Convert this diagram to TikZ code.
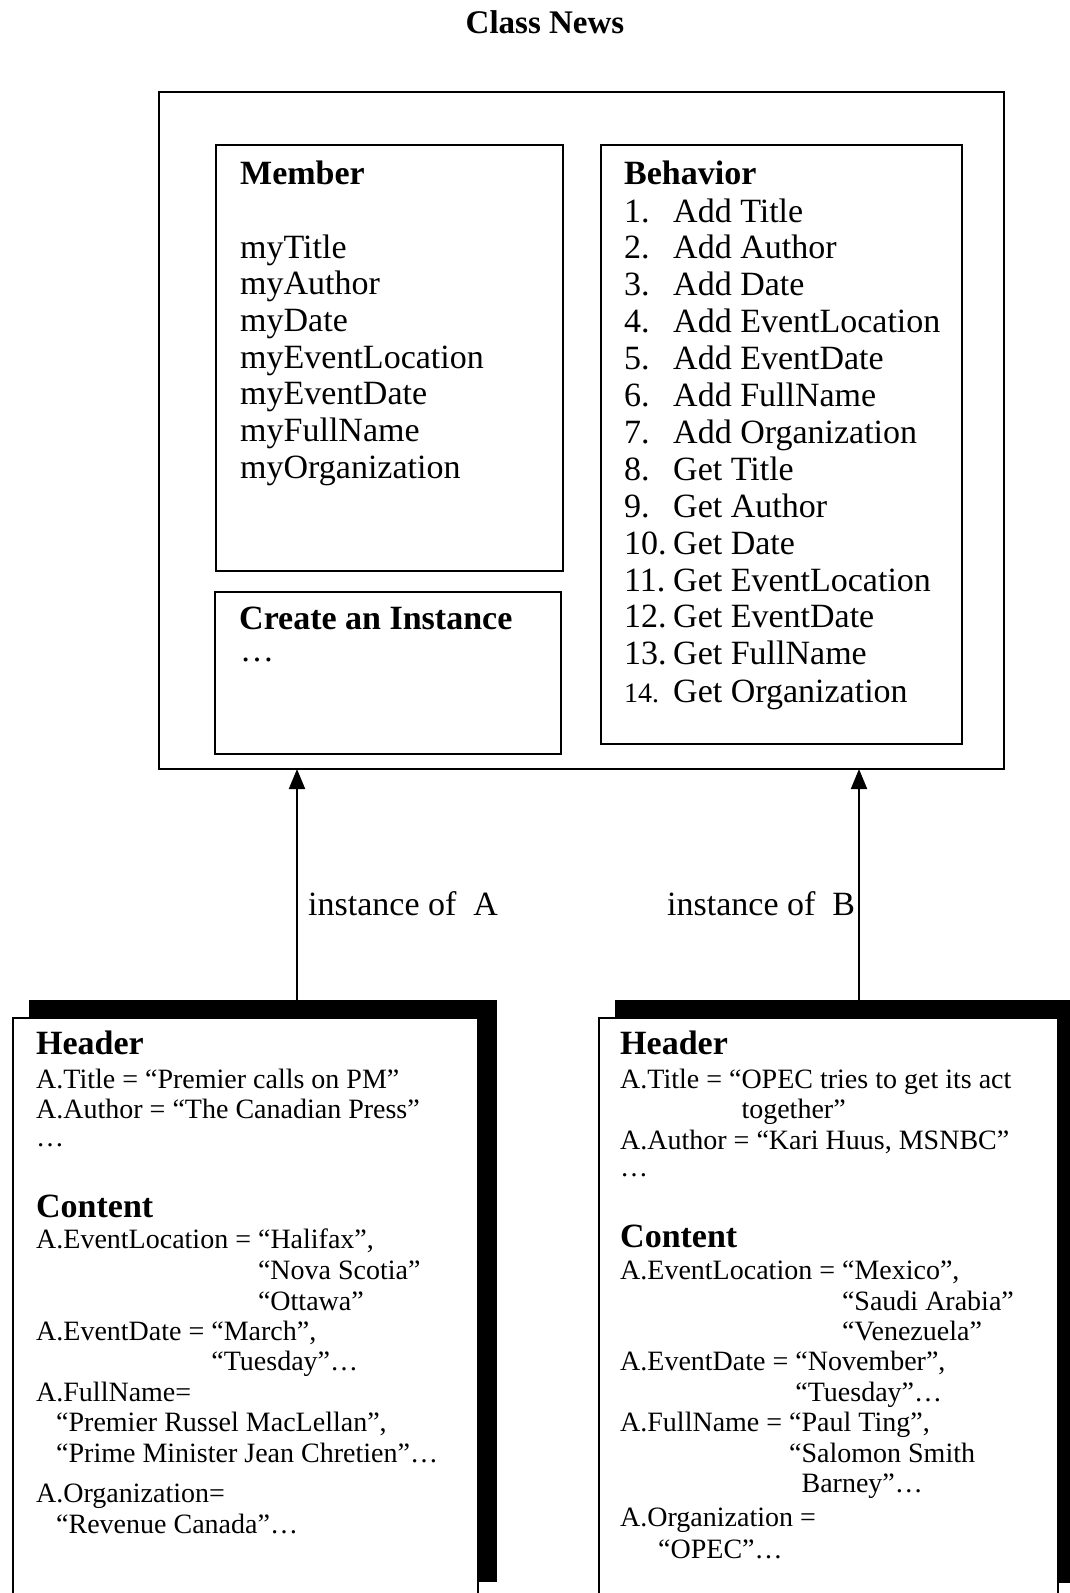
\documentclass[tikz,border=0pt]{standalone}
\usepackage{fontspec}
\setmainfont{Liberation Serif}
\usetikzlibrary{arrows.meta}
\begin{document}
\begin{tikzpicture}[x=1pt,y=-1pt,
  box/.style={draw, line width=2.5pt, anchor=north west, inner sep=0pt, outer sep=0pt},
  wbox/.style={draw, fill=white, line width=2pt, anchor=north west, inner sep=0pt, outer sep=0pt},
  shadow/.style={fill=black, anchor=north west, inner sep=0pt, outer sep=0pt},
  txt/.style={anchor=base west, inner sep=0pt, font=\fontsize{34}{40}\selectfont},
  hd/.style={anchor=base west, inner sep=0pt, font=\fontsize{34}{40}\selectfont\bfseries},
  sm/.style={anchor=base west, inner sep=0pt, font=\fontsize{28}{32}\selectfont},
  arr/.style={line width=2pt, -{Triangle[width=16pt,length=20pt]}}]
\useasboundingbox (0,0) rectangle (1070,1593);
\clip (0,0) rectangle (1070,1593);
% title
\node[anchor=base, inner sep=0pt, font=\fontsize{33}{40}\selectfont\bfseries] (title) at (545,33) {Class News};
% class box
\node[box, minimum width=845pt, minimum height=677pt] (outer) at (159,92) {};
\node[box, minimum width=347pt, minimum height=426pt] (member) at (216,145) {};
\node[box, minimum width=346pt, minimum height=162pt] (create) at (215,592) {};
\node[box, minimum width=361pt, minimum height=599pt] (behav) at (601,145) {};
% member text
\node[hd] (mh) at (240,184) {Member};
\node[txt] (m1) at (240,258) {myTitle};
\node[txt] (m2) at (240,294.7) {myAuthor};
\node[txt] (m3) at (240,331.3) {myDate};
\node[txt] (m4) at (240,368) {myEventLocation};
\node[txt] (m5) at (240,404.6) {myEventDate};
\node[txt] (m6) at (240,441.3) {myFullName};
\node[txt] (m7) at (240,478) {myOrganization};
% create
\node[hd] (ch) at (239,629) {Create an Instance};
\node[txt] (c1) at (240,661) {\ldots};
% behavior
\node[hd] (bh) at (624,184) {Behavior};
\node[txt] (n1) at (624,222) {1.};   \node[txt] (b1) at (673,222) {Add Title};
\node[txt] (n2) at (624,258.9) {2.}; \node[txt] (b2) at (673,258.9) {Add Author};
\node[txt] (n3) at (624,295.8) {3.}; \node[txt] (b3) at (673,295.8) {Add Date};
\node[txt] (n4) at (624,332.7) {4.}; \node[txt] (b4) at (673,332.7) {Add EventLocation};
\node[txt] (n5) at (624,369.6) {5.}; \node[txt] (b5) at (673,369.6) {Add EventDate};
\node[txt] (n6) at (624,406.5) {6.}; \node[txt] (b6) at (673,406.5) {Add FullName};
\node[txt] (n7) at (624,443.4) {7.}; \node[txt] (b7) at (673,443.4) {Add Organization};
\node[txt] (n8) at (624,480.3) {8.}; \node[txt] (b8) at (673,480.3) {Get Title};
\node[txt] (n9) at (624,517.2) {9.}; \node[txt] (b9) at (673,517.2) {Get Author};
\node[txt] (n10) at (624,554.1) {10.}; \node[txt] (b10) at (673,554.1) {Get Date};
\node[txt] (n11) at (624,591) {11.}; \node[txt] (b11) at (673,591) {Get EventLocation};
\node[txt] (n12) at (624,627.9) {12.}; \node[txt] (b12) at (673,627.9) {Get EventDate};
\node[txt] (n13) at (624,664.8) {13.}; \node[txt] (b13) at (673,664.8) {Get FullName};
\node[sm] (n14) at (624,702) {14.}; \node[txt] (b14) at (673,702) {Get Organization};
% instance boxes
\node[shadow, minimum width=468pt, minimum height=582pt] (shA) at (29,1000) {};
\node[wbox, minimum width=465pt, minimum height=600pt] (instA) at (13,1018) {};
\node[shadow, minimum width=470pt, minimum height=583pt] (shB) at (615,1000) {};
\node[wbox, minimum width=459pt, minimum height=600pt] (instB) at (599,1018) {};
% arrows
\coordinate (aA) at (297,1000);
\coordinate (aB) at (859,1000);
\draw[arr] (aA) -- (aA |- outer.south);
\draw[arr] (aB) -- (aB |- outer.south);
\node[txt] (labA) at (308,915) {instance of\ \ A};
\node[txt] (labB) at (667,915) {instance of\ \ B};
% instance A text
\node[hd] (ah) at (36,1054.5) {Header};
\node[sm] (a1) at (36,1088) {A.Title = “Premier calls on PM”};
\node[sm] (a2) at (36,1118.6) {A.Author = “The Canadian Press”};
\node[sm] (a3) at (36,1146) {\ldots};
\node[hd] (ac) at (36,1217) {Content};
\node[sm] (a4) at (36,1248.6) {A.EventLocation = “Halifax”,};
\node[sm] (a5) at (36,1279) {\phantom{A.EventLocation = }“Nova Scotia”};
\node[sm] (a6) at (36,1310) {\phantom{A.EventLocation = }“Ottawa”};
\node[sm] (a7) at (36,1340) {A.EventDate = “March”,};
\node[sm] (a8) at (36,1370.6) {\phantom{A.EventDate = }“Tuesday”\ldots};
\node[sm] (a9) at (36,1401) {A.FullName=};
\node[sm] (a10) at (56,1431.5) {“Premier Russel MacLellan”,};
\node[sm] (a11) at (56,1462) {“Prime Minister Jean Chretien”\ldots};
\node[sm] (a12) at (36,1502.7) {A.Organization=};
\node[sm] (a13) at (56,1533) {“Revenue Canada”\ldots};
% instance B text
\node[hd] (bh2) at (620,1054.5) {Header};
\node[sm] (c1b) at (620,1088) {A.Title = “OPEC tries to get its act};
\node[sm] (c2b) at (620,1118.6) {\phantom{A.Title = “}together”};
\node[sm] (c3b) at (620,1149) {A.Author = “Kari Huus, MSNBC”};
\node[sm] (c4b) at (620,1176) {\ldots};
\node[hd] (cc) at (620,1247.6) {Content};
\node[sm] (c5b) at (620,1279) {A.EventLocation = “Mexico”,};
\node[sm] (c6b) at (620,1310) {\phantom{A.EventLocation = }“Saudi Arabia”};
\node[sm] (c7b) at (620,1340) {\phantom{A.EventLocation = }“Venezuela”};
\node[sm] (c8b) at (620,1370.6) {A.EventDate = “November”,};
\node[sm] (c9b) at (620,1401) {\phantom{A.EventDate = }“Tuesday”\ldots};
\node[sm] (c10b) at (620,1431.5) {A.FullName = “Paul Ting”,};
\node[sm] (c11b) at (620,1462) {\phantom{A.FullName = }“Salomon Smith};
\node[sm] (c12b) at (620,1492.5) {\phantom{A.FullName = “}Barney”\ldots};
\node[sm] (c13b) at (620,1526) {A.Organization =};
\node[sm] (c14b) at (658,1558.5) {“OPEC”\ldots};
\end{tikzpicture}
\end{document}
